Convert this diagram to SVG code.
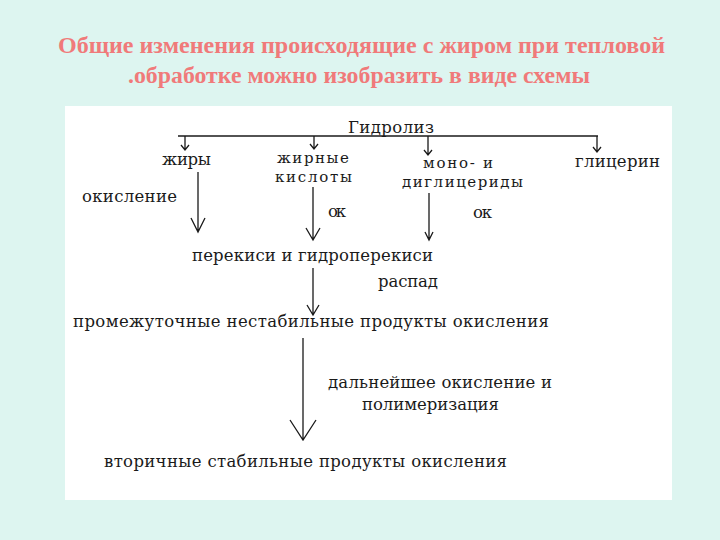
<svg xmlns="http://www.w3.org/2000/svg" width="720" height="540" viewBox="0 0 720 540">
<defs>
<style>
.title{font-family:"Liberation Serif","Times New Roman",serif;font-weight:bold;font-size:23px;fill:#f07a7a}
.t{font-family:"DejaVu Serif","Liberation Serif",serif;font-size:16.5px;fill:#1a1a1a}
.t2{font-size:15px}
.ln{stroke:#1a1a1a;stroke-width:1.3;fill:none}
</style>
</defs>
<rect width="720" height="540" fill="#ddf5f0"/>
<rect x="65" y="106" width="607" height="394" fill="#ffffff"/>
<text class="title" x="58" y="53" textLength="607" lengthAdjust="spacingAndGlyphs">Общие изменения происходящие с жиром при тепловой</text>
<text class="title" x="128" y="83" textLength="462" lengthAdjust="spacingAndGlyphs">.обработке можно изобразить в виде схемы</text>

<g id="connectors">
<path class="ln" d="M178 136H598"/>
<path class="ln" d="M185 136V150M181 145L185 150L189 145"/>
<path class="ln" d="M314 136V149M310 144L314 149L318 144"/>
<path class="ln" d="M428 136V155M424 150L428 155L432 150"/>
<path class="ln" d="M597 136V152M593 147L597 152L601 147"/>
<path class="ln" d="M198 172V232M191 218L198 232L205 218"/>
<path class="ln" d="M313 187V240M306 228L313 240L320 228"/>
<path class="ln" d="M429 193V240M425 232L429 240L433 232"/>
<path class="ln" d="M313 268V315M307 305L313 315L319 305"/>
<path class="ln" d="M303 338V440M290 420L303 440L316 420"/>
</g>

<g id="n-gidroliz"><text class="t" x="348" y="133" textLength="86">Гидролиз</text></g>
<g id="n-zhiry"><text class="t" x="162" y="165" textLength="49">жиры</text></g>
<g id="n-kisloty"><text class="t t2" x="277" y="163" textLength="72">жирные</text><text class="t t2" x="275" y="182" textLength="77">кислоты</text></g>
<g id="n-mono"><text class="t t2" x="423" y="168" textLength="70">моно- и</text><text class="t t2" x="402" y="187" textLength="121">диглицериды</text></g>
<g id="n-glicerin"><text class="t" x="575" y="167" textLength="85">глицерин</text></g>
<g id="l-okislenie"><text class="t" x="82" y="202" textLength="95">окисление</text></g>
<g id="l-ok1"><text class="t" x="328" y="217" textLength="18">ок</text></g>
<g id="l-ok2"><text class="t" x="473" y="218" textLength="19">ок</text></g>
<g id="n-perekisi"><text class="t" x="192" y="261" textLength="241">перекиси и гидроперекиси</text></g>
<g id="l-raspad"><text class="t" x="378" y="287" textLength="60">распад</text></g>
<g id="n-promezh"><text class="t" x="73" y="327" textLength="476">промежуточные нестабильные продукты окисления</text></g>
<g id="l-dalneishee"><text class="t" x="328" y="388" textLength="224">дальнейшее окисление и</text><text class="t" x="362" y="410" textLength="137">полимеризация</text></g>
<g id="n-vtorichnye"><text class="t" x="104" y="467" textLength="403">вторичные стабильные продукты окисления</text></g>
</svg>
